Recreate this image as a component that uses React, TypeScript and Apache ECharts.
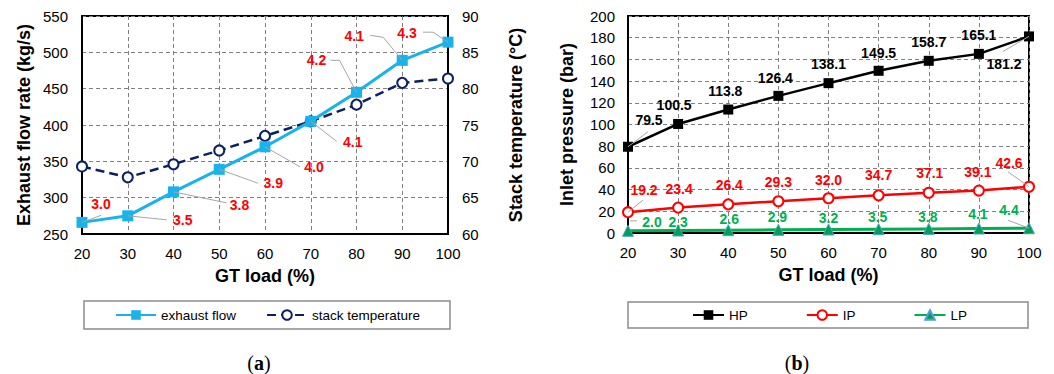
import React, { useEffect, useRef } from "react";
import * as echarts from "echarts";

// GT load steps shared by both panels
const loads = [20, 30, 40, 50, 60, 70, 80, 90, 100];

// Panel (a): exhaust flow rate (kg/s) and stack temperature (°C)
const exhaustFlow = [266, 275, 308, 339, 370, 405, 445, 489, 514];
const stackTemp = [69.3, 67.8, 69.6, 71.5, 73.5, 75.5, 77.8, 80.8, 81.4];
const flowNotes = [3.0, 3.5, 3.8, 3.9, 4.0, 4.1, 4.2, 4.1, 4.3];

// Panel (b): inlet pressures (bar)
const hpPressure = [79.5, 100.5, 113.8, 126.4, 138.1, 149.5, 158.7, 165.1, 181.2];
const ipPressure = [19.2, 23.4, 26.4, 29.3, 32.0, 34.7, 37.1, 39.1, 42.6];
const lpPressure = [2.0, 2.3, 2.6, 2.9, 3.2, 3.5, 3.8, 4.1, 4.4];

// Axis ticks
const leftFlowTicks = { min: 250, max: 550, interval: 50 };
const leftTempTicks = { min: 60, max: 90, interval: 5 };
const pressureTicks = { min: 0, max: 200, interval: 20 };

const FONT = "Liberation Sans, Arial, sans-serif";

// Label placement relative to each point: [dx, dy] of the text centre,
// and an optional leader polyline (points relative to the mark).
type NoteLayout = { at: [number, number]; leader?: [number, number][] };

const flowNoteLayout: NoteLayout[] = [
  { at: [19, -18], leader: [[0, 0], [19, -7]] },
  { at: [55, 4], leader: [[0, 0], [39, 4]] },
  { at: [66, 13], leader: [[0, 0], [53, 11]] },
  { at: [54, 14], leader: [[0, 0], [39, 14]] },
  { at: [49, 20], leader: [[0, 0], [35, 20]] },
  { at: [42, 21], leader: [[0, 0], [26, 20]] },
  { at: [-40, -32], leader: [[0, 0], [-17, -32], [-26, -32]] },
  { at: [-48, -24], leader: [[0, 0], [-19, -23], [-32, -25]] },
  { at: [-41, -9], leader: [[0, 0], [-15, -10], [-25, -10]] },
];

const hpLayout: NoteLayout[] = [
  { at: [21, -27], leader: [[0, 0], [20, -15]] },
  { at: [-4, -19] },
  { at: [-3, -19] },
  { at: [-3, -18] },
  { at: [0, -19] },
  { at: [0, -18] },
  { at: [0, -19] },
  { at: [0, -19] },
  { at: [-25, 28], leader: [[0, 0], [-26, 15]] },
];

const ipLayout: NoteLayout[] = [
  { at: [16, -22], leader: [[0, 0], [15, -12]] },
  { at: [1, -19] },
  { at: [1, -19] },
  { at: [0, -19] },
  { at: [0, -18] },
  { at: [0, -20] },
  { at: [1, -20] },
  { at: [-1, -19] },
  { at: [-20, -24], leader: [[0, 0], [-21, -15]] },
];

const lpLayout: NoteLayout[] = [
  { at: [24, -9], leader: [[2, -10], [9, -10]] },
  { at: [0, -9] },
  { at: [1, -11] },
  { at: [-1, -13] },
  { at: [0, -12] },
  { at: [-1, -12] },
  { at: [-1, -12] },
  { at: [-1, -15] },
  { at: [-20, -18], leader: [[0, 0], [-21, -8]] },
];

function notesSeries(
  values: number[],
  notes: number[],
  layout: NoteLayout[],
  color: string,
  axes: { xAxisIndex: number; yAxisIndex: number }
) {
  return {
    type: "custom",
    ...axes,
    z: 10,
    silent: true,
    data: loads.map((x, i) => [x, values[i], notes[i]]),
    renderItem: (params: any, api: any) => {
      const i = params.dataIndex;
      const p = api.coord([api.value(0), api.value(1)]);
      const l = layout[i];
      const children: any[] = [];
      if (l.leader) {
        children.push({
          type: "polyline",
          shape: { points: l.leader.map(([dx, dy]) => [p[0] + dx, p[1] + dy]) },
          style: { stroke: "#a6a6a6", lineWidth: 1, fill: "none" },
        });
      }
      children.push({
        type: "text",
        x: p[0] + l.at[0],
        y: p[1] + l.at[1],
        style: {
          text: Number(api.value(2)).toFixed(1),
          fill: color,
          font: `bold 14px ${FONT}`,
          align: "center",
          verticalAlign: "middle",
        },
      });
      return { type: "group", children };
    },
  };
}

const axisLabel = { color: "#000", fontSize: 15, fontFamily: FONT };
const nameStyle = { color: "#000", fontSize: 18, fontWeight: "bold", fontFamily: FONT };
const dashedGrid = { show: true, lineStyle: { color: "#808080", type: [4, 3], width: 1 } };

export default function App() {
  const ref = useRef<HTMLDivElement>(null);

  useEffect(() => {
    if (!ref.current) return;
    const chart = echarts.init(ref.current, undefined, { renderer: "svg" });

    const xAxisBase = {
      type: "value",
      min: 20,
      max: 100,
      interval: 10,
      name: "GT load (%)",
      nameLocation: "middle",
      nameGap: 33,
      nameTextStyle: nameStyle,
      axisLine: { show: true, lineStyle: { color: "#000", width: 2 } },
      axisTick: { show: false },
      axisLabel: { ...axisLabel, margin: 12 },
      splitLine: dashedGrid,
    };

    const panelTag = (letter: string, x: number) => ({
      type: "text",
      x,
      y: 363,
      style: {
        text: `({b|${letter}})`,
        rich: { b: { fontWeight: "bold", fontSize: 20, fontFamily: "Liberation Serif, serif", fill: "#000" } },
        font: "20px Liberation Serif, serif",
        fill: "#000",
        align: "center",
        verticalAlign: "middle",
      },
    });

    chart.setOption({
      animation: false,
      backgroundColor: "#fff",
      textStyle: { fontFamily: FONT },
      grid: [
        { left: 82, top: 16, width: 366, height: 218, show: true, borderColor: "#000", borderWidth: 2, backgroundColor: "transparent" },
        { left: 628, top: 16, width: 401, height: 217, show: true, borderColor: "#000", borderWidth: 2, backgroundColor: "transparent" },
      ],
      xAxis: [
        { ...xAxisBase, gridIndex: 0 },
        { ...xAxisBase, gridIndex: 1 },
      ],
      yAxis: [
        {
          type: "value",
          gridIndex: 0,
          ...leftFlowTicks,
          name: "Exhaust flow rate (kg/s)",
          nameLocation: "middle",
          nameGap: 49,
          nameTextStyle: nameStyle,
          axisLine: { show: true, lineStyle: { color: "#000", width: 2 } },
          axisTick: { show: false },
          axisLabel: { ...axisLabel, margin: 14 },
          splitLine: dashedGrid,
        },
        {
          type: "value",
          gridIndex: 0,
          position: "right",
          ...leftTempTicks,
          name: "Stack temperature (°C)",
          nameLocation: "middle",
          nameGap: 59,
          nameTextStyle: nameStyle,
          axisLine: { show: true, lineStyle: { color: "#000", width: 2 } },
          axisTick: { show: false },
          axisLabel: { ...axisLabel, margin: 14 },
          splitLine: { show: false },
        },
        {
          type: "value",
          gridIndex: 1,
          ...pressureTicks,
          name: "Inlet pressure (bar)",
          nameLocation: "middle",
          nameGap: 52,
          nameTextStyle: nameStyle,
          axisLine: { show: true, lineStyle: { color: "#000", width: 2 } },
          axisTick: { show: false },
          axisLabel: { ...axisLabel, margin: 13 },
          splitLine: dashedGrid,
        },
      ],
      legend: [
        {
          data: ["exhaust flow", "stack temperature"],
          left: 115,
          top: 308,
          padding: 0,
          itemWidth: 40,
          itemHeight: 12,
          itemGap: 30,
          textStyle: { color: "#000", fontSize: 13.5, fontFamily: FONT },
        },
        {
          data: ["HP", "IP", "LP"],
          left: 692,
          top: 308,
          padding: 0,
          itemWidth: 31,
          itemHeight: 12,
          itemGap: 58,
          textStyle: { color: "#000", fontSize: 13.5, fontFamily: FONT },
        },
      ],
      graphic: [
        { type: "rect", shape: { x: 84, y: 301, width: 366, height: 28 }, style: { fill: "none", stroke: "#8c8c8c", lineWidth: 1.5 }, z: 0 },
        { type: "rect", shape: { x: 628, y: 302, width: 400, height: 26 }, style: { fill: "none", stroke: "#8c8c8c", lineWidth: 1.5 }, z: 0 },
        panelTag("a", 259),
        panelTag("b", 797),
      ],
      series: [
        {
          name: "exhaust flow",
          type: "line",
          xAxisIndex: 0,
          yAxisIndex: 0,
          data: loads.map((x, i) => [x, exhaustFlow[i]]),
          symbol: "rect",
          symbolSize: 11,
          color: "#1ab2ea",
          lineStyle: { width: 3, color: "#1ab2ea" },
          itemStyle: { color: "#1ab2ea" },
          z: 3,
        },
        {
          name: "stack temperature",
          type: "line",
          xAxisIndex: 0,
          yAxisIndex: 1,
          data: loads.map((x, i) => [x, stackTemp[i]]),
          symbol: "circle",
          symbolSize: 10,
          color: "#0d2063",
          lineStyle: { width: 2.5, color: "#0d2063", type: [9, 5] },
          itemStyle: { color: "#fff", borderColor: "#0d2063", borderWidth: 2 },
          z: 2,
        },
        notesSeries(exhaustFlow, flowNotes, flowNoteLayout, "#ff0000", { xAxisIndex: 0, yAxisIndex: 0 }),
        {
          name: "HP",
          type: "line",
          xAxisIndex: 1,
          yAxisIndex: 2,
          data: loads.map((x, i) => [x, hpPressure[i]]),
          symbol: "rect",
          symbolSize: 10,
          color: "#000",
          lineStyle: { width: 2.5, color: "#000" },
          itemStyle: { color: "#000" },
        },
        {
          name: "IP",
          type: "line",
          xAxisIndex: 1,
          yAxisIndex: 2,
          data: loads.map((x, i) => [x, ipPressure[i]]),
          symbol: "circle",
          symbolSize: 10,
          color: "#ff0000",
          lineStyle: { width: 2.5, color: "#ff0000" },
          itemStyle: { color: "#fff", borderColor: "#ff0000", borderWidth: 2 },
        },
        {
          name: "LP",
          type: "line",
          xAxisIndex: 1,
          yAxisIndex: 2,
          data: loads.map((x, i) => [x, lpPressure[i]]),
          symbol: "triangle",
          symbolSize: 11,
          color: "#00b050",
          lineStyle: { width: 3, color: "#00b050" },
          itemStyle: { color: "#00a050", borderColor: "#4f9fd8", borderWidth: 1 },
        },
        notesSeries(hpPressure, hpPressure, hpLayout, "#000", { xAxisIndex: 1, yAxisIndex: 2 }),
        notesSeries(ipPressure, ipPressure, ipLayout, "#ff0000", { xAxisIndex: 1, yAxisIndex: 2 }),
        notesSeries(lpPressure, lpPressure, lpLayout, "#00b050", { xAxisIndex: 1, yAxisIndex: 2 }),
      ],
    });

    return () => chart.dispose();
  }, []);

  return (
    <div
      ref={ref}
      style={{ position: "fixed", left: 0, top: 0, width: 1054, height: 374, background: "#fff" }}
    />
  );
}
